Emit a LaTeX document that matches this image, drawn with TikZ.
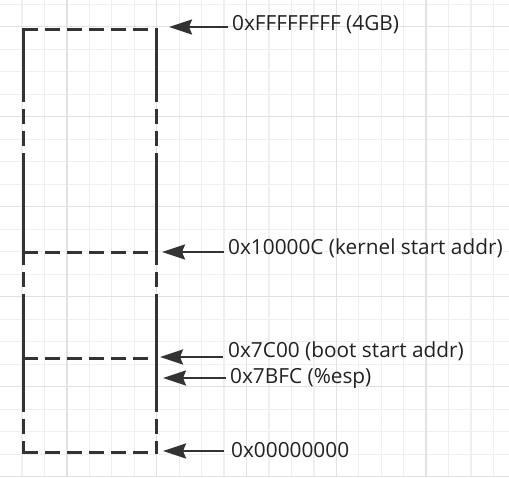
\documentclass[tikz,border=0pt]{standalone}
\usepackage{fontspec}
\setmainfont{Open Sans}
\usepackage{xcolor}
\usetikzlibrary{arrows.meta}
\definecolor{ink}{HTML}{333333}
\definecolor{textink}{HTML}{222222}
\definecolor{gridminor}{HTML}{EFEFEF}
\definecolor{gridmajor}{HTML}{E2E2E2}
\tikzset{
  wall/.style={ink, line width=3pt},
  dashwall/.style={wall, dash pattern=on 14.5pt off 7.5pt},
  pointer/.style={ink, line width=2.6pt, -{Stealth[length=23pt,width=15pt,inset=3pt]}},
  addr/.style={anchor=base west, inner sep=0pt, text=textink, font=\fontsize{20.8}{25}\selectfont}
}
\begin{document}
\begin{tikzpicture}[x=1pt,y=-1pt]
        \useasboundingbox (0,0) rectangle (509,477);
        \fill[white] (0,0) rectangle (509,477);
        % grid
        \foreach \k in {-1,...,22} \draw[gridminor,line width=1.3pt] ({22+22.45*\k},0)--({22+22.45*\k},477);
        \foreach \k in {-1,...,20} \draw[gridminor,line width=1.3pt] (0,{26.7+22.5*\k})--(509,{26.7+22.5*\k});
        \foreach \k in {2,6,...,18} \draw[gridmajor,line width=1.3pt] ({22+22.45*\k},0)--({22+22.45*\k},477);
        \foreach \k in {0,4,...,20} \draw[gridmajor,line width=1.3pt] (0,{26.7+22.5*\k})--(509,{26.7+22.5*\k});
        % memory column
        \coordinate (memTL) at (23,29);
        \coordinate (memTR) at (156,29);
        \coordinate (kernL) at (23,252);
        \coordinate (kernR) at (156,252);
        \coordinate (bootL) at (23,358);
        \coordinate (bootR) at (156,358);
        \coordinate (memBL) at (23,452);
        \coordinate (memBR) at (156,452);
        \draw[dashwall] (memTL)--(memTR);
        \draw[dashwall] (kernL)--(kernR);
        \draw[dashwall] (bootL)--(bootR);
        \draw[dashwall] (memBL)--(memBR);
        \foreach \x in {23,156} {
          \draw[wall] (\x,27.5)--(\x,87);
          \draw[dashwall] (\x,87)--(\x,157);
          \draw[wall] (\x,157)--(\x,250);
          \draw[dashwall] (\x,250)--(\x,295);
          \draw[wall] (\x,295)--(\x,397);
          \draw[dashwall] (\x,397)--(\x,453.5);
        }
        % addresses
        \node[addr] (lblTop) at (232,30) {0xFFFFFFFF (4GB)};
        \coordinate (tipTop) at (169,27);
        \coordinate (tailTop) at (228,27);
        \draw[pointer] (tailTop)--(tipTop);
        \node[addr] (lblKern) at (228,254) {0x10000C (kernel start addr)};
        \coordinate (tipKern) at (162,252);
        \coordinate (tailKern) at (224,252);
        \draw[pointer] (tailKern)--(tipKern);
        \node[addr] (lblBoot) at (228,357) {0x7C00 (boot start addr)};
        \coordinate (tipBoot) at (160,357);
        \coordinate (tailBoot) at (223,357);
        \draw[pointer] (tailBoot)--(tipBoot);
        \node[addr] (lblEsp) at (230,383) {0x7BFC (\%esp)};
        \coordinate (tipEsp) at (163,378);
        \coordinate (tailEsp) at (226,378);
        \draw[pointer] (tailEsp)--(tipEsp);
        \node[addr] (lblZero) at (231,457) {0x00000000};
        \coordinate (tipZero) at (163,451);
        \coordinate (tailZero) at (224,451);
        \draw[pointer] (tailZero)--(tipZero);
    \end{tikzpicture}
\end{document}
